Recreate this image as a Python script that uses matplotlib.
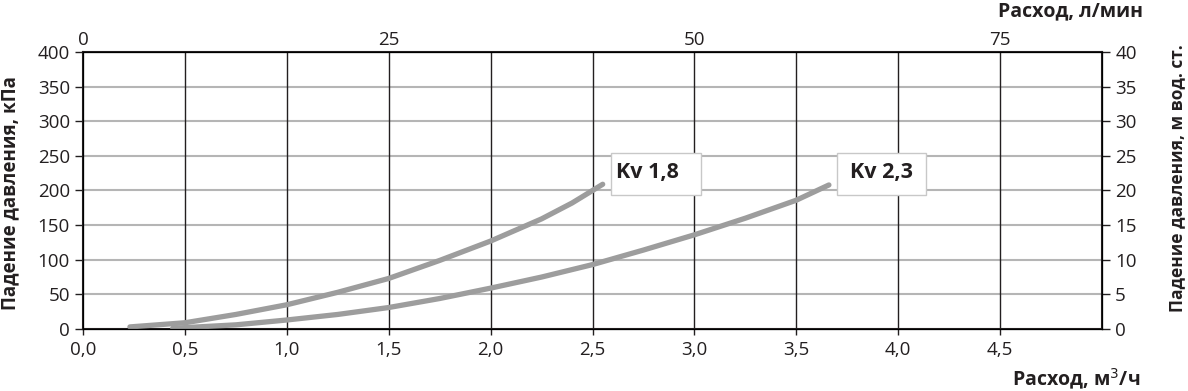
import matplotlib
matplotlib.use("Agg")
import matplotlib.pyplot as plt
from matplotlib.patches import Rectangle
import numpy as np

plt.rcParams['font.family'] = ['Open Sans', 'DejaVu Sans']

# flow m3/h and pressure drop kPa
q_18 = [0.23, 0.5, 0.75, 1.0, 1.25, 1.5, 1.75, 2.0, 2.25, 2.4, 2.55]
dp_18 = [3, 9, 21, 35, 53, 73, 99, 127, 159, 182, 209]
q_23 = [0.44, 0.75, 1.0, 1.25, 1.5, 1.75, 2.0, 2.25, 2.5, 2.75, 3.0, 3.25, 3.5, 3.66]
dp_23 = [1, 6, 13, 21, 31, 44, 59, 75, 93, 114, 136, 160, 186, 208]
labels = ["Kv 1,8", "Kv 2,3"]

x_ticks = np.arange(0, 5, 0.5)
x_ticklabels = ["0,0", "0,5", "1,0", "1,5", "2,0", "2,5", "3,0", "3,5", "4,0", "4,5"]
top_ticks = [0, 25, 50, 75]
left_ticks = np.arange(0, 401, 50)
right_ticks = np.arange(0, 41, 5)

txt = '#231f20'
fig = plt.figure(figsize=(11.88, 3.91), dpi=100)
ax = fig.add_axes([0.0699, 0.1586, 0.8577, 0.7084])

ax.set_xlim(0, 5)
ax.set_ylim(0, 400)
for y in left_ticks[1:-1]:
    ax.axhline(y, color='#b5b5b5', lw=1.5, zorder=1)
for x in x_ticks[1:]:
    ax.axvline(x, color='#231f20', lw=1.0, zorder=1)

ax.plot(q_18, dp_18, color='#9d9d9d', lw=3.8, solid_capstyle='round', zorder=3)
ax.plot(q_23, dp_23, color='#9d9d9d', lw=3.8, solid_capstyle='round', zorder=3)

# label boxes next to curve ends
ax.add_patch(Rectangle((2.591, 193), 0.441, 61, fc='white', ec='#c8c8c8', lw=1, zorder=4))
ax.add_patch(Rectangle((3.70, 193), 0.436, 61, fc='white', ec='#c8c8c8', lw=1, zorder=4))
ax.text(2.77, 226, labels[0], fontsize=15.5, fontweight='bold', color=txt,
        va='center', ha='center', zorder=5)
ax.text(3.918, 226, labels[1], fontsize=15.5, fontweight='bold', color=txt,
        va='center', ha='center', zorder=5)

ax.set_xticks(x_ticks)
ax.set_xticklabels(x_ticklabels)
ax.set_yticks(left_ticks)
ax.tick_params(axis='both', labelsize=13.5, colors=txt, length=6, width=1, direction='out')
ax.tick_params(axis='x', length=4, pad=5)
for s in ax.spines.values():
    s.set_linewidth(1.5)
    s.set_color('#231f20')

ax2 = ax.twinx()
ax2.set_ylim(0, 40)
ax2.set_yticks(right_ticks)
ax2.tick_params(axis='y', labelsize=13.5, colors=txt, length=6, width=1)

ax3 = ax.twiny()
ax3.set_xlim(0, 5 * 1000 / 60)
ax3.set_xticks(top_ticks)
ax3.tick_params(axis='x', labelsize=13.5, colors=txt, length=0, pad=2)

fig.text(0.009, 0.505, "Падение давления, кПа", fontsize=13.5, fontweight='bold', color=txt,
         rotation=90, ha='center', va='center')
fig.text(0.9905, 0.545, "Падение давления, м вод. ст.", fontsize=12.5, fontweight='bold', color=txt,
         rotation=90, ha='center', va='center')
fig.text(0.962, 0.972, "Расход, л/мин", fontsize=14, fontweight='bold', color=txt, ha='right', va='center')
fig.text(0.9596, 0.03, "Расход, м$^3$/ч", fontsize=14, fontweight='bold', color=txt, ha='right', va='center')

fig.savefig("out.png", dpi=100)
